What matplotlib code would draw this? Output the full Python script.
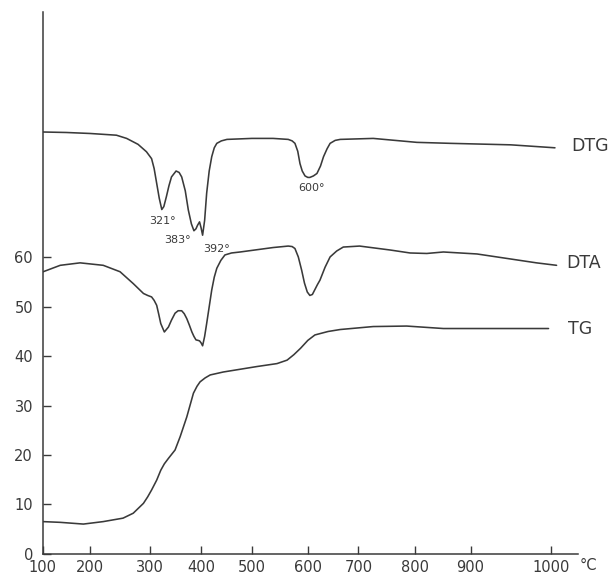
import numpy as np
import matplotlib
matplotlib.use("Agg")
import matplotlib.pyplot as plt

# ---- temperature scale of the original chart (non-uniform spacing) ----
TICK_TEMPS = [100, 200, 300, 400, 500, 600, 700, 800, 900, 1000]
TICK_LABELS = ["100", "200", "300", "400", "500", "600", "700", "800", "900", "1000"]
# relative positions of the temperature graduations on the recorder chart
SCALE_POS = [0.0, 47.3, 107.3, 158.3, 209.0, 265.0, 315.6, 372.3, 427.6, 508.0]

Y_TICKS = [0, 10, 20, 30, 40, 50, 60]

# ---- curves (temperature in °C, ordinate in chart units) ----
DTG_T = [100, 150, 200, 244, 261, 280, 294, 303, 308, 313, 318, 323, 327, 332, 337,
         342, 351, 357, 362, 369, 375, 381, 386, 390, 393, 397, 400, 403, 407, 411,
         416, 421, 426, 431, 440, 451, 500, 538, 565, 572, 577, 582, 586, 590, 595,
         600, 604, 611, 618, 625, 631, 638, 644, 654, 664, 726, 803, 864, 950, 1005]
DTG_V = [85.4, 85.3, 85.1, 84.75, 84.1, 82.9, 81.4, 80.0, 78.0, 75.0, 72.0, 69.7, 70.3,
         72.3, 74.5, 76.3, 77.5, 77.2, 76.3, 73.5, 69.6, 66.8, 65.4, 65.8, 66.5, 67.2,
         66.0, 64.5, 67.5, 73.0, 77.5, 80.4, 82.2, 83.1, 83.6, 83.9, 84.1, 84.1, 83.9,
         83.6, 83.1, 81.5, 79.0, 77.5, 76.5, 76.2, 76.2, 76.5, 77.0, 78.5, 80.4, 82.0,
         83.1, 83.7, 83.9, 84.1, 83.3, 83.1, 82.8, 82.2]

DTA_T = [101, 137, 179, 222, 250, 272, 289, 296, 303, 308, 313, 317, 321, 328, 336,
         342, 349, 355, 362, 367, 372, 377, 382, 386, 390, 394, 397, 400, 403, 407,
         411, 416, 421, 426, 431, 439, 447, 460, 477, 538, 565, 572, 577, 583, 589,
         594, 599, 604, 609, 614, 619, 624, 634, 644, 657, 670, 702, 756, 791, 821,
         851, 908, 945, 982, 1007]
DTA_V = [57.1, 58.4, 58.9, 58.4, 57.1, 54.7, 52.7, 52.3, 52.0, 51.3, 50.3, 48.5, 46.6,
         44.9, 45.9, 47.3, 48.7, 49.2, 49.2, 48.6, 47.6, 46.3, 44.9, 44.0, 43.3, 43.2,
         43.1, 42.7, 42.1, 44.0, 46.6, 50.0, 53.4, 56.0, 57.8, 59.4, 60.5, 60.9, 61.1,
         62.0, 62.3, 62.2, 61.8, 60.1, 57.4, 54.8, 53.0, 52.3, 52.5, 53.5, 54.5, 55.4,
         58.0, 60.1, 61.3, 62.1, 62.3, 61.5, 60.9, 60.8, 61.1, 60.7, 59.8, 58.9, 58.4]

TG_T = [100, 137, 186, 222, 255, 272, 289, 296, 303, 313, 321, 328, 336, 349, 359,
        372, 385, 392, 398, 408, 418, 444, 509, 545, 563, 575, 587, 600, 614, 640,
        664, 726, 785, 851, 925, 997]
TG_V = [6.5, 6.35, 6.0, 6.5, 7.2, 8.2, 10.2, 11.5, 12.9, 14.9, 16.9, 18.2, 19.3, 21.0,
        23.7, 27.7, 32.5, 33.9, 34.8, 35.6, 36.2, 36.8, 37.9, 38.5, 39.2, 40.3, 41.6,
        43.2, 44.3, 45.0, 45.4, 46.0, 46.1, 45.6, 45.6, 45.6]

PEAK_LABELS = ["321°", "383°", "392°", "600°"]
PEAK_T = [323, 386, 403, 604]
PEAK_OFFSETS = [(0.5, -8), (-12, -6.7), (10, -10), (1.4, -7.7)]

CURVE_NAMES = ["DTG", "DTA", "TG"]
CURVE_OFFSETS = [(12, 1.2), (7.2, 2), (14.2, 0)]

INK = "#3a3a3a"

# extended calibration for a smooth function scale
_ct = np.array([0.0] + TICK_TEMPS + [1100.0])
_sp = np.array(SCALE_POS)
_cp = np.concatenate([[_sp[0] - (_sp[1] - _sp[0])], _sp, [_sp[-1] + (_sp[-1] - _sp[-2])]])


def fwd(t):
    return np.interp(t, _ct, _cp)


def inv(p):
    return np.interp(p, _cp, _ct)


fig = plt.figure(figsize=(6.15, 5.76), dpi=100)
ax = fig.add_axes([42.7 / 615, (576 - 553.7) / 576, (578.3 - 42.7) / 615, (553.7 - 12) / 576])
ax.set_xscale("function", functions=(fwd, inv))
ax.set_xlim(100, 1034)
ax.set_ylim(0, 109.7)

curves = [(DTG_T, DTG_V), (DTA_T, DTA_V), (TG_T, TG_V)]
for (t, v), name, off in zip(curves, CURVE_NAMES, CURVE_OFFSETS):
    ax.plot(t, v, color=INK, lw=1.15, solid_capstyle="round", solid_joinstyle="round")
    ax.annotate(name, xy=(t[-1], v[-1]), xytext=off, textcoords="offset points",
                ha="left", va="center", fontsize=12.5, color=INK)

for lab, pt, off in zip(PEAK_LABELS, PEAK_T, PEAK_OFFSETS):
    pv = float(np.interp(pt, DTG_T, DTG_V))
    ax.annotate(lab, xy=(pt, pv), xytext=off, textcoords="offset points",
                ha="center", va="center", fontsize=8, color=INK)

for s in ("top", "right"):
    ax.spines[s].set_visible(False)
for s in ("left", "bottom"):
    ax.spines[s].set_color(INK)
    ax.spines[s].set_linewidth(1.1)

ax.set_xticks(TICK_TEMPS)
ax.set_xticklabels(TICK_LABELS)
ax.set_yticks(Y_TICKS)
ax.set_yticklabels([str(y) for y in Y_TICKS])
ax.minorticks_off()
ax.tick_params(axis="both", direction="in", length=5.5, width=1.0, color=INK,
               labelcolor=INK, labelsize=10.5)
ax.tick_params(axis="x", pad=4.5)
ax.tick_params(axis="y", pad=7)

fig.text(588 / 615, 1 - 565 / 576, "°C", ha="center", va="center", fontsize=10.5, color=INK)

fig.savefig("out.png", dpi=100)
